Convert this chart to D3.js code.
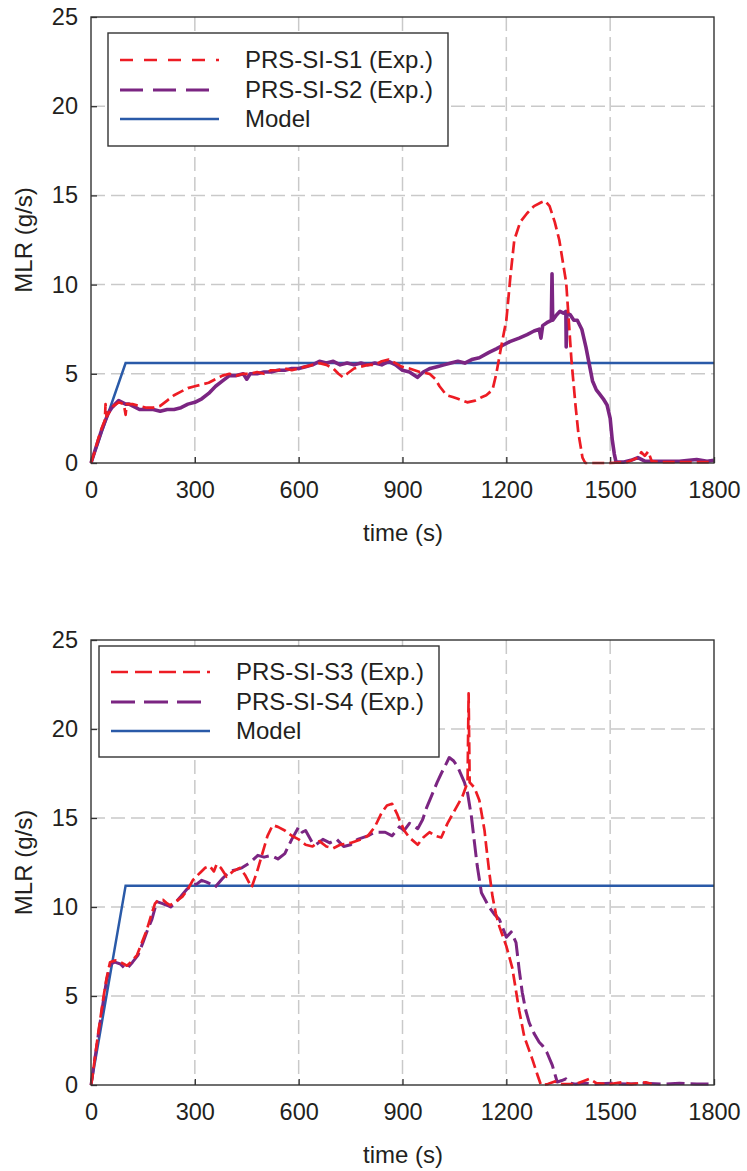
<!DOCTYPE html>
<html>
<head>
<meta charset="utf-8">
<script src="https://cdn.jsdelivr.net/npm/d3@7"></script>
<style>
  body { margin: 0; background: #fff; }
  text { font-family: "Liberation Sans", Arial, sans-serif; fill: #231f20; }
</style>
</head>
<body>
<div id="root"></div>
<script>
const W = 747, H = 1171;

const xTicks = [0, 300, 600, 900, 1200, 1500, 1800];
const yTicks = [0, 5, 10, 15, 20, 25];

const namesTop = ["PRS-SI-S1 (Exp.)", "PRS-SI-S2 (Exp.)", "Model"];
const namesBottom = ["PRS-SI-S3 (Exp.)", "PRS-SI-S4 (Exp.)", "Model"];

// [time s, MLR g/s]
const s1 = [[0,0],[10,0.6],[20,1.3],[30,1.9],[40,2.4],[42,3.3],[45,2.6],[55,2.9],[65,3.2],[80,3.4],[95,3.3],[100,2.7],[103,3.3],[120,3.3],[140,3.2],[160,3.1],[180,3.1],[200,3.2],[220,3.5],[240,3.8],[260,4.0],[280,4.2],[300,4.3],[320,4.4],[340,4.5],[360,4.7],[380,4.9],[400,5.0],[420,4.9],[440,5.0],[460,5.0],[480,5.1],[500,5.0],[520,5.2],[540,5.2],[560,5.3],[580,5.2],[600,5.3],[620,5.4],[640,5.5],[660,5.6],[680,5.5],[700,5.3],[715,5.0],[728,4.8],[740,5.0],[760,5.3],[780,5.4],[800,5.5],[820,5.5],[840,5.7],[860,5.8],[880,5.6],[897,5.4],[920,5.3],[950,5.1],[978,5.0],[995,4.7],[1007,4.3],[1027,3.8],[1045,3.7],[1060,3.6],[1087,3.4],[1110,3.5],[1130,3.7],[1142,3.8],[1160,4.1],[1171,5.0],[1185,6.5],[1200,8.0],[1212,10.5],[1223,12.5],[1240,13.5],[1260,14.0],[1280,14.4],[1300,14.6],[1312,14.7],[1325,14.4],[1340,13.5],[1353,12.5],[1373,10.1],[1388,5.8],[1400,3.2],[1408,1.7],[1420,0.3],[1428,0],[1450,0],[1500,0],[1550,0.05],[1580,0.3],[1590,0.6],[1600,0.4],[1610,0.65],[1620,0.1],[1650,0.05],[1700,0.05],[1750,0.05],[1800,0.05]];

const s2 = [[0,0],[10,0.6],[20,1.2],[30,1.8],[40,2.3],[50,2.8],[60,3.1],[70,3.3],[80,3.5],[90,3.4],[100,3.3],[110,3.3],[120,3.2],[130,3.1],[140,3.0],[160,3.0],[180,3.0],[200,2.9],[220,3.0],[240,3.0],[260,3.1],[280,3.3],[300,3.4],[320,3.6],[340,3.9],[360,4.3],[380,4.6],[400,4.9],[420,4.9],[440,5.0],[450,4.7],[460,5.0],[480,5.0],[500,5.1],[520,5.1],[540,5.2],[560,5.2],[580,5.3],[600,5.3],[620,5.4],[640,5.5],[660,5.7],[680,5.6],[700,5.7],[720,5.5],[740,5.6],[760,5.5],[780,5.6],[800,5.5],[820,5.6],[840,5.5],[860,5.7],[880,5.5],[900,5.2],[920,5.1],[943,4.8],[960,5.1],[980,5.3],[1000,5.4],[1020,5.5],[1040,5.6],[1060,5.7],[1080,5.6],[1100,5.8],[1122,5.9],[1150,6.2],[1171,6.4],[1190,6.6],[1210,6.8],[1237,7.0],[1260,7.2],[1280,7.4],[1295,7.5],[1300,7.0],[1305,7.7],[1320,7.9],[1330,8.0],[1332,10.6],[1334,8.0],[1345,8.3],[1355,8.5],[1365,8.4],[1372,8.5],[1373,6.5],[1375,8.4],[1385,8.3],[1395,8.0],[1405,8.0],[1418,7.5],[1430,6.5],[1440,5.5],[1449,4.6],[1460,4.1],[1468,3.9],[1480,3.6],[1491,3.25],[1500,2.5],[1506,1.3],[1512,0.5],[1517,0.05],[1540,0.05],[1560,0.15],[1580,0.3],[1600,0.1],[1650,0.1],[1700,0.1],[1750,0.2],[1780,0.1],[1800,0.15]];

const modelTop = [[0,0],[100,5.6],[1800,5.6]];

const s3 = [[0,0],[3,0.3],[20,2.8],[35,4.8],[45,6.0],[55,6.9],[69,7.0],[85,6.9],[104,6.7],[120,7.0],[133,7.3],[147,8.0],[161,8.7],[175,9.6],[185,10.2],[196,10.4],[208,10.4],[220,10.2],[228,10.1],[245,10.3],[265,10.6],[280,11.0],[294,11.5],[304,11.7],[314,11.9],[330,12.2],[343,12.3],[355,12.0],[363,12.4],[375,12.2],[392,11.7],[410,12.0],[430,12.2],[445,11.8],[464,11.1],[480,12.0],[495,13.0],[510,14.0],[525,14.6],[540,14.5],[560,14.3],[580,14.0],[600,13.8],[620,13.5],[640,13.4],[660,13.7],[680,13.4],[700,13.3],[720,13.5],[750,13.6],[780,13.8],[800,14.0],[820,14.5],[840,15.3],[855,15.7],[870,15.8],[885,15.2],[891,14.9],[905,14.3],[920,13.9],[944,13.5],[960,13.9],[978,14.2],[995,14.0],[1012,13.9],[1030,14.7],[1050,15.4],[1073,16.2],[1088,17.0],[1091,22.0],[1094,17.0],[1108,16.7],[1122,16.0],[1137,14.3],[1142,13.4],[1151,11.9],[1160,10.6],[1170,9.6],[1180,8.9],[1200,7.8],[1217,6.6],[1237,4.2],[1252,2.7],[1265,2.0],[1276,1.4],[1290,0.56],[1300,0],[1320,0.05],[1340,0.2],[1360,0.05],[1400,0.05],[1420,0.2],[1440,0.35],[1460,0.1],[1500,0.05],[1535,0.15],[1560,0.05],[1603,0.15],[1620,0.05]];

const s4 = [[0,0],[15,2.0],[30,4.0],[45,5.9],[57,6.8],[69,6.9],[85,6.8],[100,6.5],[107,6.6],[120,6.9],[136,7.3],[150,8.0],[165,8.8],[176,9.3],[190,10.3],[205,10.2],[219,10.1],[230,10.0],[242,10.2],[260,10.6],[277,11.0],[290,11.2],[306,11.3],[320,11.5],[334,11.4],[345,11.3],[358,11.1],[380,11.6],[401,12.0],[420,12.1],[436,12.2],[460,12.5],[482,12.9],[500,12.8],[520,12.9],[540,12.7],[560,13.0],[580,13.8],[600,14.5],[610,14.2],[620,14.3],[640,13.6],[650,13.5],[670,13.8],[690,13.6],[710,13.8],[730,13.4],[750,13.5],[770,13.8],[800,14.0],[820,14.2],[850,14.2],[870,14.0],[891,14.5],[905,14.3],[920,14.7],[944,14.4],[958,14.9],[970,15.6],[983,16.2],[1000,17.0],[1012,17.5],[1025,18.0],[1035,18.4],[1048,18.2],[1059,17.9],[1079,17.0],[1088,16.4],[1099,15.1],[1108,13.6],[1116,12.3],[1128,10.8],[1150,10.0],[1165,9.6],[1180,9.3],[1190,8.8],[1200,8.3],[1214,8.6],[1228,8.0],[1237,6.5],[1246,5.2],[1256,4.2],[1266,3.5],[1280,2.9],[1295,2.4],[1305,2.2],[1318,1.8],[1333,1.1],[1347,0.17],[1360,0.25],[1372,0.35],[1385,0.1],[1400,0.05],[1430,0.1],[1460,0.05],[1500,0.1],[1550,0.05],[1600,0.1],[1650,0.05],[1700,0.1],[1750,0.05],[1800,0.05]];

const modelBottom = [[0,0],[100,11.2],[1800,11.2]];

const RED = "#ed1c24", PURPLE = "#7b2582", BLUE = "#2a5aa8";

const svg = d3.select("#root").append("svg")
  .attr("width", W).attr("height", H)
  .style("background", "#fff");

function drawPanel(cfg) {
  const x = d3.scaleLinear().domain([0, 1800]).range([91, 714]);
  const y = d3.scaleLinear().domain([0, 25]).range([cfg.bottom, cfg.top]);
  const g = svg.append("g");

  // grid
  g.append("g").selectAll("line").data(xTicks.slice(1, -1)).join("line")
    .attr("x1", d => x(d)).attr("x2", d => x(d))
    .attr("y1", y(25)).attr("y2", y(0))
    .attr("stroke", "#c9c9c9").attr("stroke-width", 1.5)
    .attr("stroke-dasharray", "14,6");
  g.append("g").selectAll("line").data(yTicks.slice(1, -1)).join("line")
    .attr("x1", x(0)).attr("x2", x(1800))
    .attr("y1", d => y(d)).attr("y2", d => y(d))
    .attr("stroke", "#c9c9c9").attr("stroke-width", 1.5)
    .attr("stroke-dasharray", "14,6");

  // axes
  const xa = g.append("g").attr("transform", `translate(0,${cfg.bottom})`)
    .call(d3.axisBottom(x).tickValues(xTicks).tickFormat(d3.format("d"))
      .tickSize(-6).tickPadding(18));
  const ya = g.append("g").attr("transform", "translate(91,0)")
    .call(d3.axisLeft(y).tickValues(yTicks).tickFormat(d3.format("d"))
      .tickSize(-6).tickPadding(13));
  [xa, ya].forEach(a => {
    a.select(".domain").remove();
    a.selectAll(".tick line").attr("stroke", "#333").attr("stroke-width", 1.3);
    a.selectAll("text").style("font-size", "23.5px")
      .style("font-family", '"Liberation Sans", Arial, sans-serif').attr("fill", "#231f20");
  });

  // lines
  const line = d3.line().x(d => x(d[0])).y(d => y(d[1]));
  const plot = g.append("g");
  plot.append("path").datum(cfg.model).attr("d", line)
    .attr("fill", "none").attr("stroke", BLUE).attr("stroke-width", 2.5);
  plot.append("path").datum(cfg.b).attr("d", line)
    .attr("fill", "none").attr("stroke", PURPLE).attr("stroke-width", cfg.bWidth)
    .attr("stroke-dasharray", cfg.bDash).attr("stroke-linejoin", "round");
  plot.append("path").datum(cfg.a).attr("d", line)
    .attr("fill", "none").attr("stroke", RED).attr("stroke-width", 2.7)
    .attr("stroke-dasharray", "12,5").attr("stroke-linejoin", "round");

  // frame
  g.append("rect").attr("x", 91).attr("y", cfg.top)
    .attr("width", 714 - 91).attr("height", cfg.bottom - cfg.top)
    .attr("fill", "none").attr("stroke", "#333").attr("stroke-width", 1.4);

  // legend
  const L = cfg.legend;
  g.append("rect").attr("x", L.x0).attr("y", L.y0)
    .attr("width", L.x1 - L.x0).attr("height", L.y1 - L.y0)
    .attr("fill", "#fff").attr("stroke", "#333").attr("stroke-width", 1.4);
  const styles = [
    { c: RED, d: L.redDash, w: 2.6 },
    { c: PURPLE, d: L.purpleDash, w: 3 },
    { c: BLUE, d: null, w: 2.5 }
  ];
  cfg.names.forEach((n, i) => {
    const ry = L.rows[i];
    g.append("line").attr("x1", L.lx0).attr("x2", L.lx1).attr("y1", ry).attr("y2", ry)
      .attr("stroke", styles[i].c).attr("stroke-width", styles[i].w)
      .attr("stroke-dasharray", styles[i].d);
    g.append("text").attr("x", L.tx).attr("y", ry).attr("dy", "0.35em")
      .style("font-size", "24px").text(n);
  });

  // titles
  g.append("text").attr("x", 403).attr("y", cfg.bottom + 70).attr("dy", "0.35em")
    .attr("text-anchor", "middle").style("font-size", "24px").text("time (s)");
  g.append("text")
    .attr("transform", `translate(24,${(cfg.top + cfg.bottom) / 2}) rotate(-90)`)
    .attr("dy", "0.35em").attr("text-anchor", "middle")
    .style("font-size", "24px").text("MLR (g/s)");
}

drawPanel({
  top: 17, bottom: 463, a: s1, b: s2, model: modelTop, bDash: null, bWidth: 3.6, names: namesTop,
  legend: { x0: 108, x1: 448, y0: 33, y1: 146, lx0: 120, lx1: 219, tx: 245,
            rows: [60, 90, 119], redDash: "13,11", purpleDash: "23,10" }
});
drawPanel({
  top: 640, bottom: 1085, a: s3, b: s4, model: modelBottom, bDash: "18,6", bWidth: 3, names: namesBottom,
  legend: { x0: 99, x1: 439, y0: 646, y1: 757, lx0: 111, lx1: 210, tx: 236,
            rows: [672, 702, 731], redDash: "17,7", purpleDash: "24,9" }
});
</script>
</body>
</html>
